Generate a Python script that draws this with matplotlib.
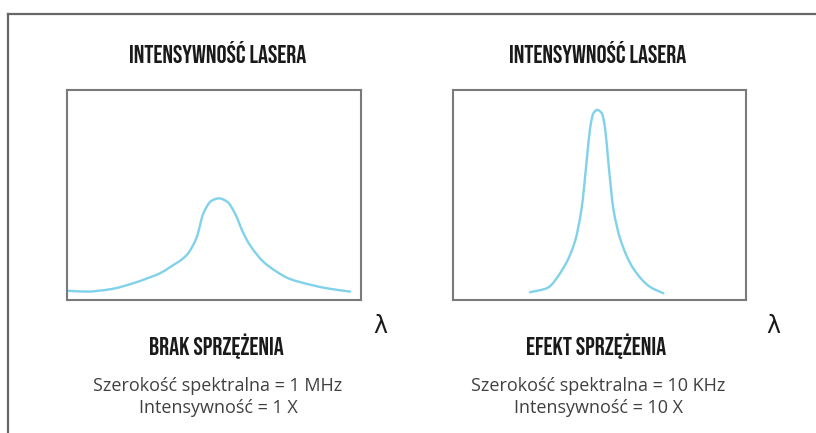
import matplotlib.pyplot as plt
from matplotlib.lines import Line2D
from matplotlib.path import Path
from matplotlib.patches import PathPatch

# curve, x = wavelength (0-100 across box), y = intensity (0-100)
lam_left = [0.1, 6.7, 14.6, 22.6, 28.2, 31.6, 35.0, 40.7, 44.1, 46.4, 49.2, 51.7,
            54.5, 57.1, 60.0, 62.2, 66.8, 71.3, 75.3, 83.3, 88.3, 96.3]
int_left = [4.4, 4.0, 5.1, 8.0, 10.8, 12.7, 15.6, 21.4, 29.8, 41.3, 47.3, 48.4,
            46.8, 41.3, 31.8, 26.2, 18.2, 13.5, 10.3, 7.1, 5.6, 4.0]

lam_right = [26.3, 32.0, 37.6, 41.6, 43.9, 45.6, 46.8, 47.9, 49.2, 50.8, 51.9,
             53.0, 54.7, 57.0, 61.5, 67.2, 71.8]
int_right = [3.7, 5.6, 15.1, 27.8, 43.7, 65.9, 81.8, 88.9, 90.5, 88.9, 81.8,
             65.9, 43.7, 29.4, 15.1, 6.3, 3.2]

title = "INTENSYWNOŚĆ LASERA"
labels = ["BRAK SPRZĘŻENIA", "EFEKT SPRZĘŻENIA"]
widths = ["Szerokość spektralna = 1 MHz", "Szerokość spektralna = 10 KHz"]
gains = ["Intensywność = 1 X", "Intensywność = 10 X"]

W, H = 816, 433
fig = plt.figure(figsize=(W / 100, H / 100), dpi=100)

line_col = '#80d2ea'
box_col = '#7a7a7a'
head_font = ['Bebas Neue', 'Oswald', 'Antonio', 'Archivo Narrow', 'DejaVu Sans']
body_font = ['Open Sans', 'DejaVu Sans']


def fx(px):
    return px / W


def fy(py):
    return 1 - py / H


def smooth_path(xs, ys):
    # monotone (pchip style) tangents, each gap drawn as a cubic bezier
    n = len(xs)
    h = [xs[k + 1] - xs[k] for k in range(n - 1)]
    d = [(ys[k + 1] - ys[k]) / h[k] for k in range(n - 1)]
    m = [0.0] * n
    m[0], m[-1] = d[0], d[-1]
    for k in range(1, n - 1):
        if d[k - 1] * d[k] <= 0:
            m[k] = 0.0
        else:
            w1 = 2 * h[k] + h[k - 1]
            w2 = h[k] + 2 * h[k - 1]
            m[k] = (w1 + w2) / (w1 / d[k - 1] + w2 / d[k])
    verts = [(xs[0], ys[0])]
    codes = [Path.MOVETO]
    for k in range(n - 1):
        verts += [(xs[k] + h[k] / 3, ys[k] + m[k] * h[k] / 3),
                  (xs[k + 1] - h[k] / 3, ys[k + 1] - m[k + 1] * h[k] / 3),
                  (xs[k + 1], ys[k + 1])]
        codes += [Path.CURVE4] * 3
    return Path(verts, codes)


# outer frame (top + left only)
fig.add_artist(Line2D([fx(7.5), 1], [fy(13.5), fy(13.5)], color='#666666', lw=1.6))
fig.add_artist(Line2D([fx(7.5), fx(7.5)], [fy(13.5), 0], color='#666666', lw=1.6))

panels = [
    (67, 294, lam_left, int_left, 218, 380),
    (453, 293, lam_right, int_right, 598, 773),
]

for i, (x0, w, lam, inten, cx, lx) in enumerate(panels):
    ax = fig.add_axes([fx(x0), fy(300), w / W, 210 / H])
    ax.add_patch(PathPatch(smooth_path(lam, inten), fill=False, edgecolor=line_col,
                           lw=1.7, capstyle='round'))
    ax.set_xlim(0, 100)
    ax.set_ylim(0, 100)
    ax.set_xticks([])
    ax.set_yticks([])
    for s in ax.spines.values():
        s.set_color(box_col)
        s.set_linewidth(1.5)

    fig.text(fx(cx), fy(52), title, ha='center', va='center', fontsize=18,
             family=head_font, color='#1a1a1a')
    fig.text(fx(cx - 2), fy(346), labels[i], ha='center', va='center', fontsize=18,
             family=head_font, color='#1a1a1a')
    fig.text(fx(cx), fy(386), widths[i], ha='center', va='center', fontsize=13,
             family=body_font, color='#404040')
    fig.text(fx(cx), fy(408), gains[i], ha='center', va='center', fontsize=13,
             family=body_font, color='#404040')
    fig.text(fx(lx), fy(326), 'λ', ha='center', va='center', fontsize=17,
             family=['DejaVu Sans'], color='#1a1a1a')

fig.savefig('out.png', dpi=100)
